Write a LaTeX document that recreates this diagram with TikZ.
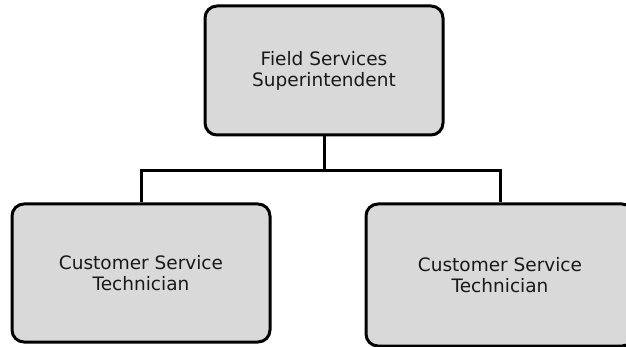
\documentclass[tikz,border=0pt]{standalone}
\usepackage{fontspec}
\setmainfont{DejaVu Sans}
\begin{document}
\begin{tikzpicture}[x=1pt,y=-1pt,
  orgbox/.style={draw=black, line width=3pt, fill=gray!30!white,
    rounded corners=12pt, align=center, inner sep=0pt,
    font=\fontsize{18.5}{21}\selectfont, text=black!90},
  link/.style={draw=black, line width=3pt}]
  \useasboundingbox (0,0) rectangle (626,347);
  \node[orgbox, minimum width=238pt, minimum height=129pt] (sup) at (324,70.5)
    {Field Services\\Superintendent};
  \node[orgbox, minimum width=258pt, minimum height=138pt] (tech1) at (141,273)
    {Customer Service\\Technician};
  \node[orgbox, minimum width=268pt, minimum height=142pt] (tech2) at (500,275)
    {Customer Service\\Technician};
  \coordinate (split) at (324,171);
  \draw[link] (sup.south) -- (split);
  \draw[link] (split) -| (tech1.north);
  \draw[link] (split) -| (tech2.north);
\end{tikzpicture}
\end{document}
